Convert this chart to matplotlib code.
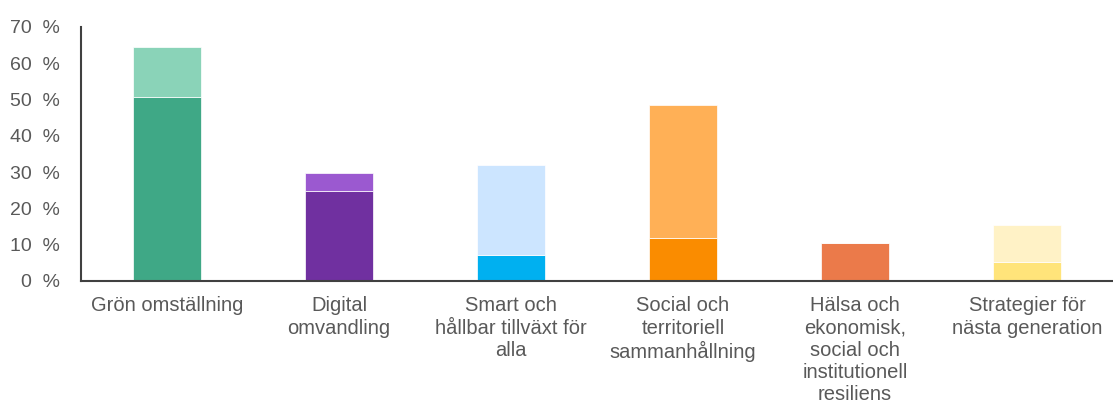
import matplotlib.pyplot as plt

categories = [
    "Grön omställning",
    "Digital\nomvandling",
    "Smart och\nhållbar tillväxt för\nalla",
    "Social och\nterritoriell\nsammanhållning",
    "Hälsa och\nekonomisk,\nsocial och\ninstitutionell\nresiliens",
    "Strategier för\nnästa generation",
]
bottom_values = [50.7, 24.8, 7.2, 11.8, 10.4, 5.3]
top_values = [13.8, 4.9, 24.7, 36.7, 0.0, 10.1]

dark_colors = ["#3fa886", "#7030a0", "#00b0f0", "#fa8c00", "#eb7a4a", "#ffe47a"]
light_colors = ["#8ad3b8", "#9b59d0", "#cce5ff", "#ffb056", "#f0a07e", "#fff2c6"]

plt.rcParams["font.family"] = ["Liberation Sans", "DejaVu Sans"]

fig = plt.figure(figsize=(11.13, 4.2), dpi=100)
ax = fig.add_axes([0.0728, 0.331, 0.9272, 0.605])

x = range(len(categories))
ax.bar(x, bottom_values, width=0.39, color=dark_colors, edgecolor="white", linewidth=0.5)
ax.bar(x, top_values, width=0.39, bottom=bottom_values, color=light_colors,
       edgecolor="white", linewidth=0.5)

ax.set_xlim(-0.5, 5.5)
ax.set_ylim(0, 70)
ax.set_yticks(range(0, 71, 10))
ax.set_yticklabels([f"{v}  %" for v in range(0, 71, 10)])
ax.set_xticks(list(x))
ax.set_xticklabels(categories, linespacing=1.22)

ax.tick_params(axis="y", length=0, pad=15, labelsize=14, labelcolor="#595959")
ax.tick_params(axis="x", length=0, pad=11, labelsize=14.5, labelcolor="#595959")

for side in ["top", "right"]:
    ax.spines[side].set_visible(False)
for side in ["left", "bottom"]:
    ax.spines[side].set_color("#404040")
    ax.spines[side].set_linewidth(1.5)

fig.savefig("out.png", dpi=100)
